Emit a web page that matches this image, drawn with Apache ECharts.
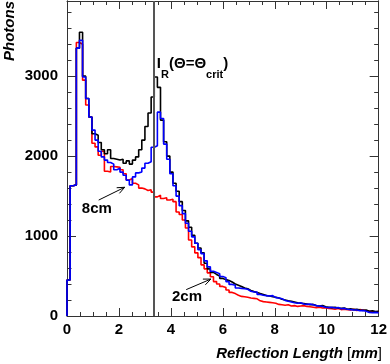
<!DOCTYPE html>
<html>
<head>
<meta charset="utf-8">
<script src="https://cdn.jsdelivr.net/npm/echarts@6/dist/echarts.min.js"></script>
<style>
  html, body { margin: 0; padding: 0; background: #fff; }
  #chart { width: 390px; height: 364px; }
</style>
</head>
<body>
<div id="chart"></div>
<script>
// histogram: 100 bins of 0.12 mm from 0 to 12 mm
const binWidth = 0.12
const xTicks = [0, 2, 4, 6, 8, 10, 12]
const yTicks = [0, 1000, 2000, 3000]
const critLength = 3.33

// 8cm distance, black = total
const photonsTotal = [
  450, 1630, 1640, 3350, 3550, 3000, 2720, 2490, 2280, 2260,
  2170, 2080, 2030, 2080, 1970, 1960, 1950, 1960, 1910, 1940,
  1900, 1950, 1990, 2080, 2200, 2370, 2540, 2740, 2990, 2860,
  2450, 2180, 2000, 1800, 1660, 1560, 1430, 1320, 1190, 1110,
  1010, 910, 850, 790, 660, 590, 545, 520, 500, 470,
  455, 445, 425, 400, 385, 370, 350, 340, 320, 305,
  295, 280, 270, 255, 250, 240, 235, 225, 210, 200,
  190, 185, 175, 165, 160, 155, 150, 140, 145, 130,
  125, 130, 115, 110, 105, 110, 100, 95, 100, 85,
  90, 80, 85, 75, 70, 75, 60, 65, 55, 60
]
const photons8cm = [
  450, 1630, 1640, 3350, 3450, 2990, 2720, 2490, 2325, 2200,
  2060, 1990, 1950, 1920, 1900, 1830, 1850, 1800, 1760, 1700,
  1640, 1740, 1790, 1800, 1850, 1910, 1930, 2110, 2130, 2550,
  2470, 2150, 1960, 1780, 1630, 1500, 1380, 1280, 1160, 1060,
  990, 910, 830, 780, 690, 615, 560, 545, 530, 495,
  480, 430, 395, 385, 350, 345, 340, 335, 310, 300,
  300, 270, 260, 255, 250, 255, 230, 225, 215, 195,
  185, 175, 165, 160, 165, 150, 145, 150, 140, 130,
  125, 120, 110, 105, 110, 100, 105, 90, 95, 85,
  80, 75, 75, 65, 70, 60, 45, 40, 45, 40
]
const photons2cm = [
  450, 1630, 1640, 3420, 3400, 2950, 2640, 2490, 2160, 2115,
  2010, 2060, 1810, 1800, 1870, 1865, 1860, 1830, 1780, 1700,
  1720, 1660, 1640, 1600, 1590, 1570, 1580, 1550, 1490, 1510,
  1470, 1480, 1450, 1460, 1430, 1300, 1270, 1200, 1100, 950,
  865, 790, 730, 640, 590, 540, 490, 430, 400, 370,
  355, 325, 295, 280, 260, 245, 240, 235, 225, 220,
  215, 190, 180, 175, 170, 165, 160, 145, 140, 135,
  140, 125, 130, 120, 125, 130, 120, 115, 110, 105,
  110, 100, 105, 95, 90, 85, 95, 80, 85, 80,
  75, 85, 70, 80, 75, 65, 60, 55, 50, 55
]

const font = 'Liberation Sans, Arial, sans-serif'
const frameColor = '#333'

// histogram -> step points (left bin edges)
function toSteps(values) {
  let pts = [[0, 0]]
  values.forEach((v, i) => pts.push([i * binWidth, v]))
  pts.push([values.length * binWidth, values[values.length - 1]])
  return pts
}

function histSeries(name, values, color, extra) {
  return Object.assign({
    name: name,
    type: 'line',
    step: 'end',
    data: toSteps(values),
    showSymbol: false,
    symbol: 'none',
    lineStyle: { color: color, width: 1.6 },
    silent: true
  }, extra || {})
}

const xMax = xTicks[xTicks.length - 1]
const yMax = 3940

function xAx(pos, labels) {
  return {
    type: 'value', position: pos, min: 0, max: xMax, interval: 2,
    axisLine: { show: true, onZero: false, lineStyle: { color: frameColor, width: 1 } },
    axisTick: { show: true, inside: true, length: 8, lineStyle: { color: frameColor } },
    minorTick: { show: true, splitNumber: 4, length: 4, lineStyle: { color: frameColor } },
    splitLine: { show: false },
    axisLabel: {
      show: labels, margin: 6, color: '#000',
      fontFamily: font, fontWeight: 'bold', fontSize: 15
    }
  }
}

function yAx(pos, interval, len, labels) {
  return {
    type: 'value', position: pos, min: 0, max: yMax, interval: interval,
    axisLine: { show: true, onZero: false, lineStyle: { color: frameColor, width: 1 } },
    axisTick: { show: true, inside: true, length: len, lineStyle: { color: frameColor } },
    splitLine: { show: false },
    axisLabel: {
      show: labels, margin: 9, color: '#000', showMaxLabel: false,
      fontFamily: font, fontWeight: 'bold', fontSize: 15,
      formatter: v => (yTicks.indexOf(v) >= 0 ? String(v) : '')
    }
  }
}

const chart = echarts.init(document.getElementById('chart'))

let option = {
  animation: false,
  backgroundColor: '#fff',
  grid: { left: 67, right: 8, top: 1, bottom: 48 },
  xAxis: [xAx('bottom', true), xAx('top', false)],
  yAxis: [
    yAx('left', 1000, 9, true),
    yAx('left', 200, 4.5, false),
    yAx('right', 1000, 9, false),
    yAx('right', 200, 4.5, false)
  ],
  series: [
    histSeries('2cm', photons2cm, '#ff0000'),
    histSeries('total', photonsTotal, '#000000', {
      markLine: {
        silent: true, symbol: ['none', 'none'],
        label: { show: false },
        lineStyle: { color: '#555', width: 2, type: 'solid' },
        data: [{ xAxis: critLength }]
      }
    }),
    histSeries('8cm', photons8cm, '#0000ff')
  ]
}
chart.setOption(option)

// annotations placed from data coordinates
function px(x, y) { return chart.convertToPixel({ xAxisIndex: 0, yAxisIndex: 0 }, [x, y]) }

function arrow(from, to) {
  let a = px(from[0], from[1]), b = px(to[0], to[1])
  let ang = Math.atan2(b[1] - a[1], b[0] - a[0])
  let h = 8, w = 0.4
  let w1 = [b[0] - h * Math.cos(ang - w), b[1] - h * Math.sin(ang - w)]
  let w2 = [b[0] - h * Math.cos(ang + w), b[1] - h * Math.sin(ang + w)]
  return [
    { type: 'polyline', shape: { points: [a, b] }, style: { stroke: '#000', lineWidth: 1, fill: null } },
    { type: 'polyline', shape: { points: [w1, b, w2] }, style: { stroke: '#000', lineWidth: 1, fill: null } }
  ]
}

function label(text, at) {
  let p = px(at[0], at[1])
  return {
    type: 'text', x: p[0], y: p[1],
    style: { text: text, fill: '#000', font: 'bold 15px ' + font, align: 'center', verticalAlign: 'middle' }
  }
}

let lblCrit = px(3.46, 3250)
let graphics = [
  {
    type: 'text', x: 2, y: 1, rotation: Math.PI / 2,
    style: { text: 'Photons', fill: '#000', font: 'italic bold 15px ' + font, align: 'right', verticalAlign: 'top' }
  },
  {
    type: 'text', x: 382, y: 361,
    style: {
      text: '{b|Reflection Length }{n|[}{b|mm}{n|]}',
      align: 'right', verticalAlign: 'bottom',
      rich: {
        b: { font: 'italic bold 15px ' + font, fill: '#000' },
        n: { font: '15px ' + font, fill: '#000' }
      }
    }
  },
  {
    type: 'text', x: lblCrit[0], y: lblCrit[1],
    style: {
      text: '{a|I}{s|R}{a|(\u0398=\u0398}{s|crit}{a|)}',
      align: 'left', verticalAlign: 'top',
      rich: {
        a: { font: 'bold 15px ' + font, fill: '#000', lineHeight: 24, verticalAlign: 'top' },
        s: { font: 'bold 11px ' + font, fill: '#000', lineHeight: 11, verticalAlign: 'bottom' }
      }
    }
  },
  label('8cm', [1.15, 1340]),
  label('2cm', [4.62, 240])
].concat(arrow([1.22, 1450], [2.22, 1610]), arrow([4.59, 330], [5.54, 462]))

chart.setOption({ graphic: graphics })
</script>
</body>
</html>
